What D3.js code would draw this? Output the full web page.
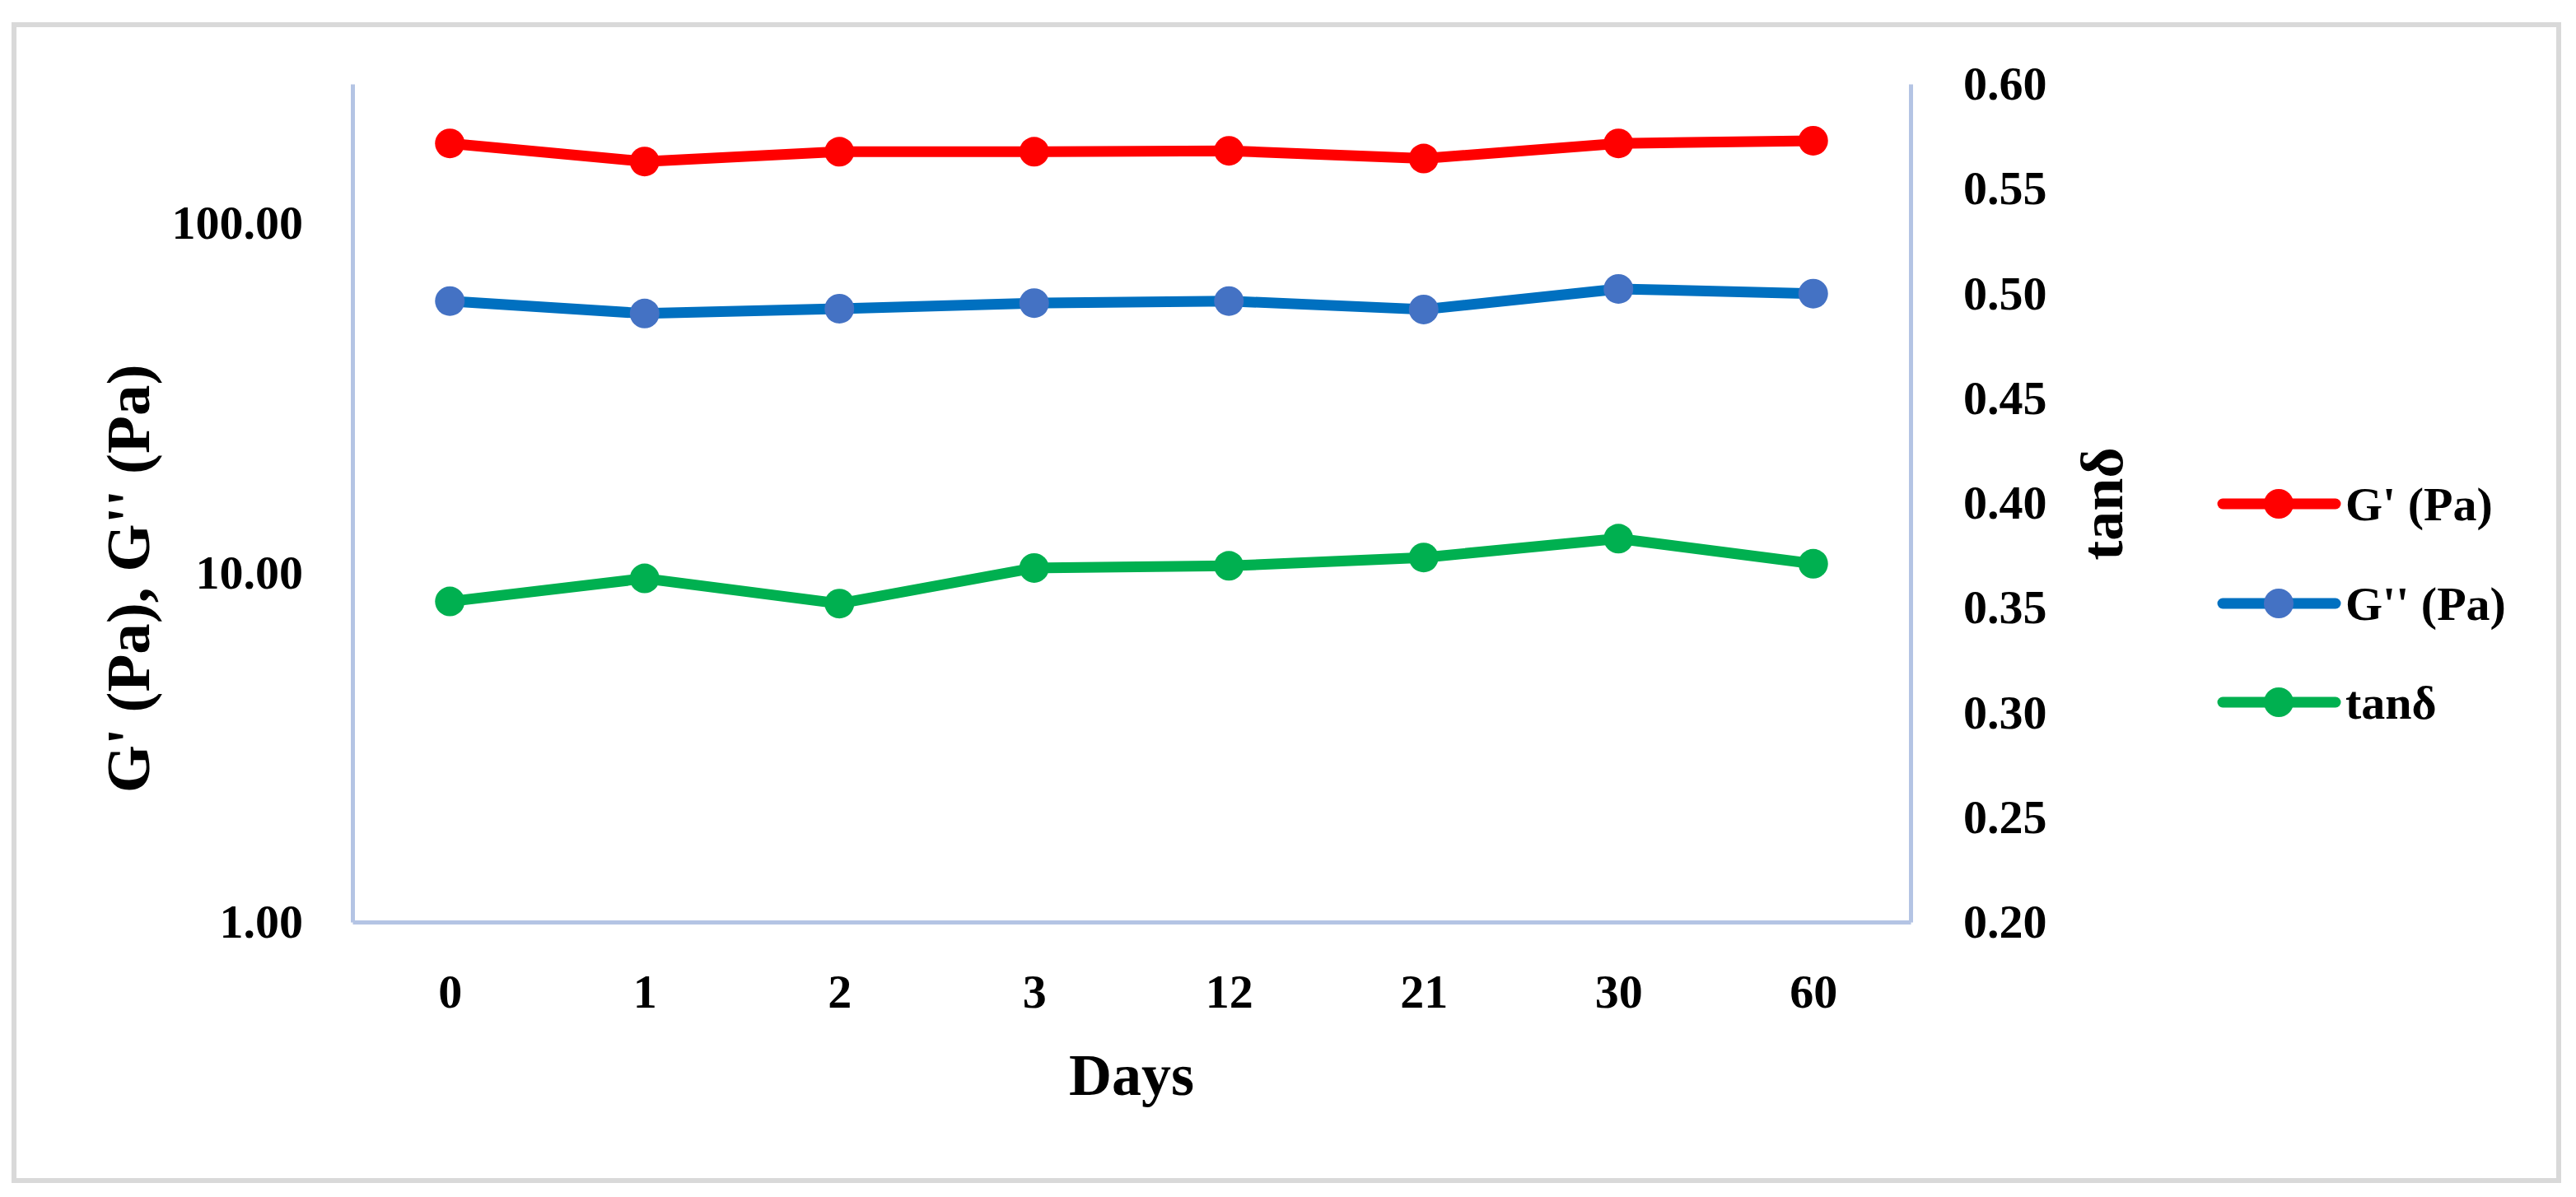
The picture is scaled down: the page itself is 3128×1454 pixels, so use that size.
<!DOCTYPE html>
<html>
<head>
<meta charset="utf-8">
<script src="https://cdn.jsdelivr.net/npm/d3@7"></script>
<style>
  html, body { margin: 0; padding: 0; background: #ffffff; }
  svg { display: block; }
</style>
</head>
<body>
<svg id="chart" width="3128" height="1454"></svg>
<script>
// ---- data ----
const days = ["0", "1", "2", "3", "12", "21", "30", "60"];
const gPrime = [169, 150, 160, 160, 161, 153, 169, 172];
const gDoublePrime = [59.8, 55.1, 56.9, 59.0, 59.8, 56.6, 64.8, 62.8];
const tanDelta = [0.353, 0.364, 0.352, 0.369, 0.370, 0.374, 0.383, 0.371];
const leftTicks = [1, 10, 100];
const rightTicks = [0.20, 0.25, 0.30, 0.35, 0.40, 0.45, 0.50, 0.55, 0.60];
const seriesNames = ["G' (Pa)", "G'' (Pa)", "tan\u03b4"];

// ---- layout ----
const W = 3128, H = 1454;
const plot = { left: 428, right: 2320, top: 102, bottom: 1120 };
const font = "'Liberation Serif', 'Times New Roman', serif";
const axisColor = "#b4c4e4";
const textColor = "#000000";

const svg = d3.select("#chart");

// outer frame
svg.append("rect")
  .attr("x", 17).attr("y", 30)
  .attr("width", 3090).attr("height", 1404)
  .attr("fill", "#ffffff")
  .attr("stroke", "#d9d9d9").attr("stroke-width", 6);

const x = d3.scalePoint().domain(days).range([plot.left, plot.right]).padding(0.5);
const yL = d3.scaleLog().domain([1, 250]).range([plot.bottom, plot.top]);
const yR = d3.scaleLinear().domain([0.2, 0.6]).range([plot.bottom, plot.top]);

function styleAxis(g, size) {
  g.select(".domain").attr("stroke", axisColor).attr("stroke-width", 5);
  g.selectAll(".tick line").remove();
  g.selectAll(".tick text")
    .attr("fill", textColor)
    .style("font-family", font)
    .style("font-weight", "bold")
    .style("font-size", size + "px");
}

// left axis
const gL = svg.append("g").attr("transform", `translate(${plot.left},0)`)
  .call(d3.axisLeft(yL).tickValues(leftTicks).tickFormat(d3.format(".2f"))
    .tickSize(0).tickSizeOuter(0).tickPadding(60));
styleAxis(gL, 58);

// right axis
const gR = svg.append("g").attr("transform", `translate(${plot.right},0)`)
  .call(d3.axisRight(yR).tickValues(rightTicks).tickFormat(d3.format(".2f"))
    .tickSize(0).tickSizeOuter(0).tickPadding(64));
styleAxis(gR, 58);

// bottom axis
const gB = svg.append("g").attr("transform", `translate(0,${plot.bottom})`)
  .call(d3.axisBottom(x).tickSize(0).tickSizeOuter(0).tickPadding(63));
styleAxis(gB, 58);

// axis titles
svg.append("text")
  .attr("transform", "translate(155,703) rotate(-90)")
  .attr("text-anchor", "middle").attr("dy", "0.35em")
  .attr("fill", textColor)
  .style("font-family", font).style("font-weight", "bold").style("font-size", "75px")
  .text("G' (Pa), G'' (Pa)");

svg.append("text")
  .attr("transform", "translate(2552,612) rotate(-90)")
  .attr("text-anchor", "middle").attr("dy", "0.35em")
  .attr("fill", textColor)
  .style("font-family", font).style("font-weight", "bold").style("font-size", "72px")
  .text("tan\u03b4");

svg.append("text")
  .attr("x", (plot.left + plot.right) / 2).attr("y", 1330)
  .attr("text-anchor", "middle")
  .attr("fill", textColor)
  .style("font-family", font).style("font-weight", "bold").style("font-size", "72px")
  .text("Days");

// series
const series = [
  { name: seriesNames[0], values: gPrime, y: yL, line: "#ff0000", marker: "#ff0000" },
  { name: seriesNames[1], values: gDoublePrime, y: yL, line: "#0070c0", marker: "#4472c4" },
  { name: seriesNames[2], values: tanDelta, y: yR, line: "#00b050", marker: "#00b050" }
];

series.forEach(s => {
  const pts = days.map((d, i) => [d, s.values[i]]);
  const line = d3.line().x(p => x(p[0])).y(p => s.y(p[1]));
  svg.append("path")
    .attr("d", line(pts))
    .attr("fill", "none")
    .attr("stroke", s.line)
    .attr("stroke-width", 13)
    .attr("stroke-linejoin", "round")
    .attr("stroke-linecap", "round");
  svg.append("g").selectAll("circle").data(pts).join("circle")
    .attr("cx", p => x(p[0]))
    .attr("cy", p => s.y(p[1]))
    .attr("r", 18)
    .attr("fill", s.marker);
});

// legend
const legendY = [612, 733, 853];
series.forEach((s, i) => {
  const g = svg.append("g").attr("transform", `translate(0,${legendY[i]})`);
  g.append("line").attr("x1", 2699).attr("x2", 2836).attr("y1", 0).attr("y2", 0)
    .attr("stroke", s.line).attr("stroke-width", 13).attr("stroke-linecap", "round");
  g.append("circle").attr("cx", 2767).attr("cy", 0).attr("r", 18).attr("fill", s.marker);
  g.append("text").attr("x", 2848).attr("y", 0).attr("dy", "0.35em")
    .attr("fill", textColor)
    .style("font-family", font).style("font-weight", "bold").style("font-size", "58px")
    .text(s.name);
});
</script>
</body>
</html>
